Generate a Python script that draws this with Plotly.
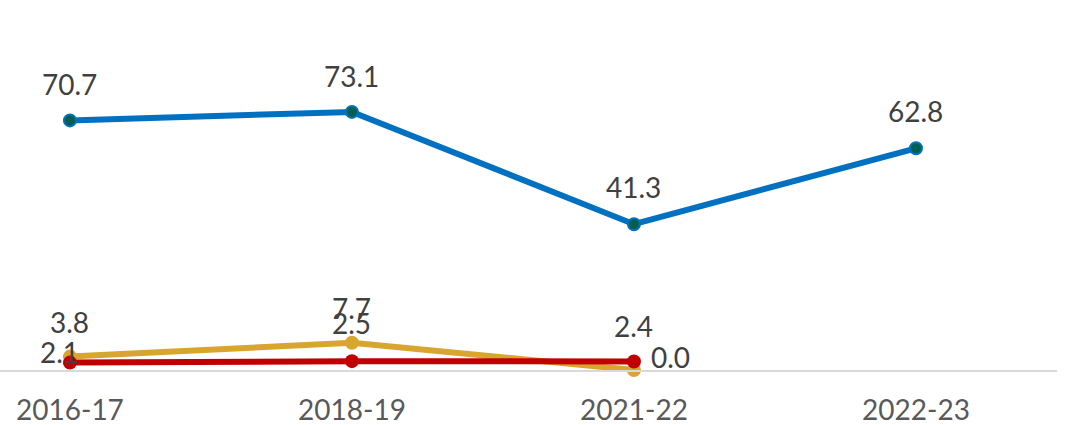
import plotly.graph_objects as go

# Survey rounds and series values
years = ["2016-17", "2018-19", "2021-22", "2022-23"]
blue_vals = [70.7, 73.1, 41.3, 62.8]
gold_vals = [3.8, 7.7, 0.0]
red_vals = [2.1, 2.5, 2.4]

xpos = list(range(len(years)))

BLUE = "#0070C0"
TEAL = "#00604E"
GOLD = "#D9A531"
RED = "#C00000"
FONT = "Lato"

fig = go.Figure()

fig.add_trace(go.Scatter(
    x=xpos[:len(blue_vals)], y=blue_vals, mode="lines+markers",
    line=dict(color=BLUE, width=6),
    marker=dict(size=12, color=TEAL, line=dict(color=BLUE, width=2)),
    cliponaxis=False, hoverinfo="skip",
))
fig.add_trace(go.Scatter(
    x=xpos[:len(gold_vals)], y=gold_vals, mode="lines+markers",
    line=dict(color=GOLD, width=6),
    marker=dict(size=14, color=GOLD),
    cliponaxis=False, hoverinfo="skip",
))
fig.add_trace(go.Scatter(
    x=xpos[:len(red_vals)], y=red_vals, mode="lines+markers",
    line=dict(color=RED, width=6),
    marker=dict(size=14, color=RED),
    cliponaxis=False, hoverinfo="skip",
))

# Data labels: pixel offsets from each point
label_offsets = {
    "blue": [(0, 36), (0, 36), (0, 37), (0, 37)],
    "gold": [(0, 35), (0, 35), (37, 13)],
    "red": [(-10, 11), (0, 38), (0, 36)],
}
series = {"blue": blue_vals, "gold": gold_vals, "red": red_vals}
for name, vals in series.items():
    for i, v in enumerate(vals):
        dx, dy = label_offsets[name][i]
        fig.add_annotation(
            x=xpos[i], y=v, text=f"{v:.1f}", showarrow=False,
            xshift=dx, yshift=dy,
            font=dict(family=FONT, size=28, color="#404040"),
        )

fig.update_layout(
    width=1074, height=425,
    margin=dict(l=0, r=17, t=0, b=55),
    paper_bgcolor="white", plot_bgcolor="white",
    showlegend=False,
    xaxis=dict(
        range=[-0.248, 3.5],
        tickmode="array", tickvals=xpos, ticktext=years,
        showgrid=False, zeroline=False,
        showline=True, linecolor="#D9D9D9", linewidth=2,
        ticks="outside", ticklen=14, tickcolor="rgba(0,0,0,0)",
        tickfont=dict(family=FONT, size=28, color="#595959"),
    ),
    yaxis=dict(
        range=[0, 104.8], visible=False, showgrid=False, zeroline=False,
    ),
)

fig.write_html("out.html")
